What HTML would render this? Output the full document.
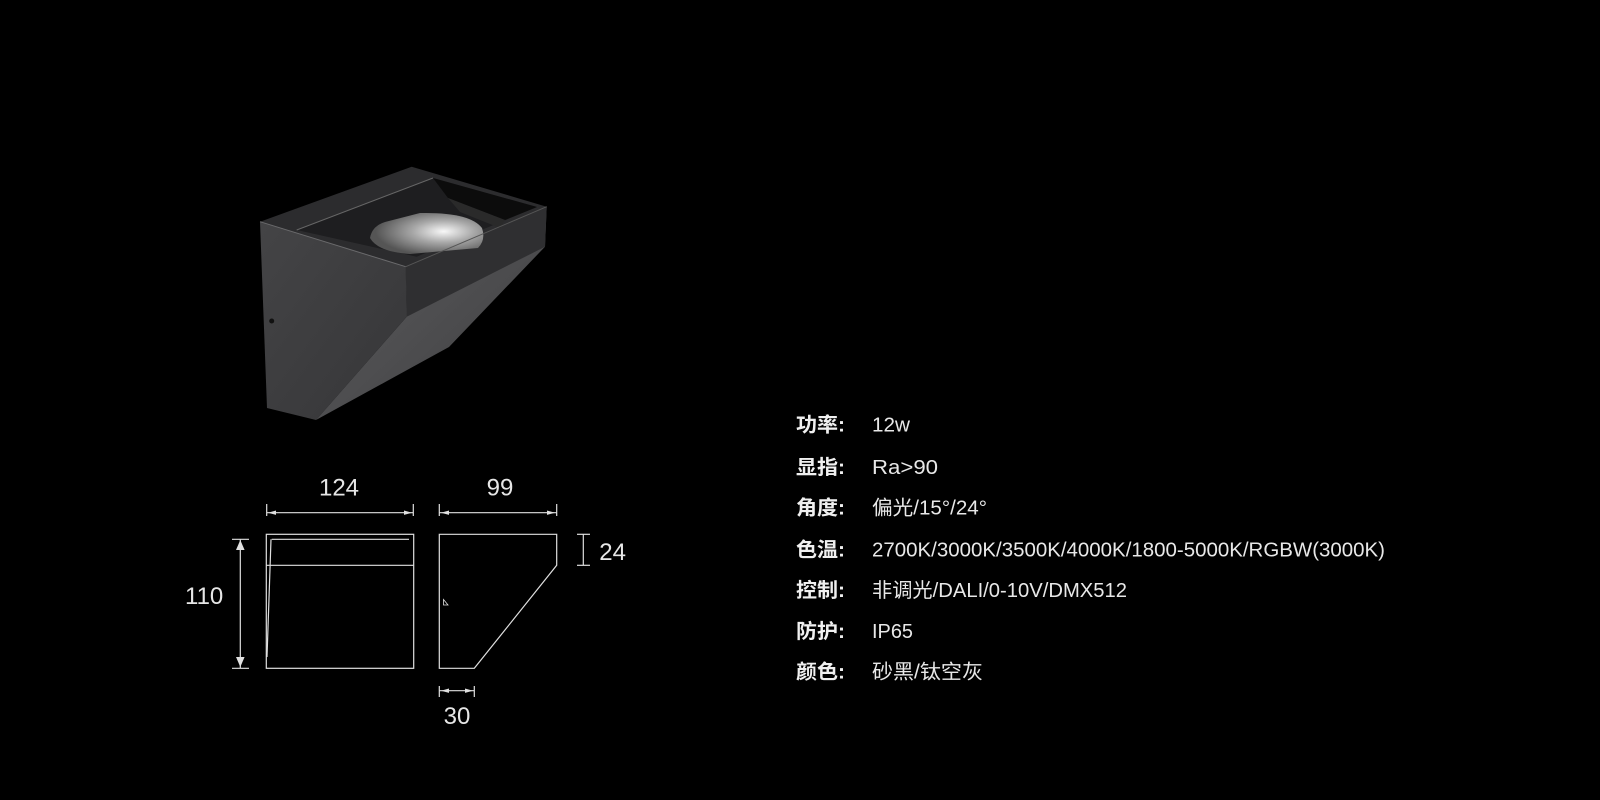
<!DOCTYPE html>
<html><head><meta charset="utf-8"><style>
html,body{margin:0;padding:0;background:#000;width:1600px;height:800px;overflow:hidden}
svg{display:block}
.d{font-family:"Liberation Sans",sans-serif;fill:#e6e6e6;font-size:24px}
.l{font-family:"Liberation Sans","Noto Sans CJK SC",sans-serif;fill:#f0f0f0;font-size:20px;font-weight:bold}
.v{font-family:"Liberation Sans","Noto Sans CJK SC",sans-serif;fill:#e8e8e8;font-size:20px}
</style></head><body>
<svg width="1600" height="800" viewBox="0 0 1600 800" xmlns="http://www.w3.org/2000/svg">
<defs>
<linearGradient id="ug" x1="0" y1="0" x2="1" y2="1"><stop offset="0" stop-color="#5e5e60"/><stop offset="1" stop-color="#3e3e40"/></linearGradient>
<linearGradient id="fg" x1="0" y1="0" x2="1" y2="1"><stop offset="0" stop-color="#444446"/><stop offset="1" stop-color="#363638"/></linearGradient>
<radialGradient id="lg" cx="0.65" cy="0.45" r="0.6"><stop offset="0" stop-color="#f8f8f8"/><stop offset="0.45" stop-color="#a8a8a8"/><stop offset="1" stop-color="#555"/></radialGradient>
</defs>
<polygon points="405.7,266.7 546.7,206.7 545,246.7 449,347 316,420 406.7,316.7" fill="url(#ug)"/>
<polygon points="405.7,266.7 546.7,206.7 545,246.7 406.7,316.7" fill="#2f2f31"/>
<polygon points="260,221.7 405.7,266.7 406.7,316.7 316,420 267,408" fill="url(#fg)"/>
<polygon points="260,221.7 411.7,166.7 546.7,206.7 405.7,266.7" fill="#2c2c2e"/>
<polygon points="296.7,230 433,178 537,207 416.7,256.7" fill="#1e1e20"/>
<polygon points="433,178 537,207 505,220 448,198" fill="#0c0c0c"/>
<polygon points="448,198 505,220 500,228 460,212" fill="#2a2a2a"/>
<path d="M370,238 Q372,226 385,222 L420,213 Q470,212 482,228 Q486,240 478,248 L410,254 Q378,252 370,238 Z" fill="url(#lg)"/>
<line x1="260" y1="221.7" x2="405.7" y2="266.7" stroke="#6a6a6c" stroke-width="1"/>
<line x1="405.7" y1="266.7" x2="546.7" y2="206.7" stroke="#555" stroke-width="1"/>
<line x1="296.7" y1="230" x2="433" y2="178" stroke="#666" stroke-width="1"/>
<circle cx="271.7" cy="321" r="2.5" fill="#111"/>
<g stroke="#e0e0e0" stroke-width="1.2" fill="none">
<rect x="266.3" y="534.3" width="147.4" height="134"/>
<line x1="266.3" y1="565.3" x2="413.7" y2="565.3"/>
<line x1="271.7" y1="539.3" x2="409" y2="539.3"/>
<line x1="271" y1="539.3" x2="267" y2="657"/>
<line x1="266.7" y1="512.7" x2="413.3" y2="512.7"/>
<line x1="266.7" y1="504" x2="266.7" y2="516"/>
<line x1="413.3" y1="504" x2="413.3" y2="516"/>
<line x1="240.3" y1="539.3" x2="240.3" y2="668.3"/>
<line x1="232" y1="539.3" x2="249" y2="539.3"/>
<line x1="232" y1="668.3" x2="249" y2="668.3"/>
<polygon points="439.3,534.3 556.7,534.3 556.7,565.3 474.3,668.3 439.3,668.3"/>
<line x1="439.3" y1="512.7" x2="556.7" y2="512.7"/>
<line x1="439.3" y1="504" x2="439.3" y2="516"/>
<line x1="556.7" y1="504" x2="556.7" y2="516"/>
<line x1="583.3" y1="534.3" x2="583.3" y2="565.3"/>
<line x1="577" y1="534.3" x2="590" y2="534.3"/>
<line x1="577" y1="565.3" x2="590" y2="565.3"/>
<line x1="439.3" y1="690.7" x2="474.3" y2="690.7"/>
<line x1="439.3" y1="686" x2="439.3" y2="697"/>
<line x1="474.3" y1="686" x2="474.3" y2="697"/>
<polygon points="443.5,599.5 448,605 443.5,605" stroke-width="0.8"/>
</g>
<g fill="#e0e0e0">
<polygon points="240.3,540 236,550 244.6,550"/><polygon points="240.3,667 236,657 244.6,657"/>
<polygon points="268,512.7 276,510.5 276,514.9"/><polygon points="412,512.7 404,510.5 404,514.9"/>
<polygon points="441,512.7 449,510.5 449,514.9"/><polygon points="555,512.7 547,510.5 547,514.9"/>
<polygon points="441,690.7 449,688.5 449,692.9"/><polygon points="473,690.7 465,688.5 465,692.9"/>
</g>
<text class="d" x="339" y="495.7" text-anchor="middle">124</text>
<text class="d" x="500" y="495.7" text-anchor="middle">99</text>
<text class="d" x="185" y="604">110</text>
<text class="d" x="599.3" y="560">24</text>
<text class="d" x="457" y="724" text-anchor="middle">30</text>
<g class="l">
<text x="796" y="431.7" textLength="49" lengthAdjust="spacingAndGlyphs">功率:</text>
<text x="796" y="474" textLength="49" lengthAdjust="spacingAndGlyphs">显指:</text>
<text x="796" y="514.5" textLength="49" lengthAdjust="spacingAndGlyphs">角度:</text>
<text x="796" y="556.7" textLength="49" lengthAdjust="spacingAndGlyphs">色温:</text>
<text x="796" y="597" textLength="49" lengthAdjust="spacingAndGlyphs">控制:</text>
<text x="796" y="638" textLength="49" lengthAdjust="spacingAndGlyphs">防护:</text>
<text x="796" y="678.5" textLength="49" lengthAdjust="spacingAndGlyphs">颜色:</text>
</g>
<g class="v">
<text x="872" y="431.7" textLength="38" lengthAdjust="spacingAndGlyphs">12w</text>
<text x="872" y="474" textLength="66" lengthAdjust="spacingAndGlyphs">Ra&gt;90</text>
<text x="872" y="514.5" textLength="115" lengthAdjust="spacingAndGlyphs">偏光/15°/24°</text>
<text x="872" y="556.7" textLength="513" lengthAdjust="spacingAndGlyphs">2700K/3000K/3500K/4000K/1800-5000K/RGBW(3000K)</text>
<text x="872" y="597" textLength="255" lengthAdjust="spacingAndGlyphs">非调光/DALI/0-10V/DMX512</text>
<text x="872" y="638" textLength="41" lengthAdjust="spacingAndGlyphs">IP65</text>
<text x="872" y="678.5" textLength="111" lengthAdjust="spacingAndGlyphs">砂黑/钛空灰</text>
</g>
</svg>
</body></html>
